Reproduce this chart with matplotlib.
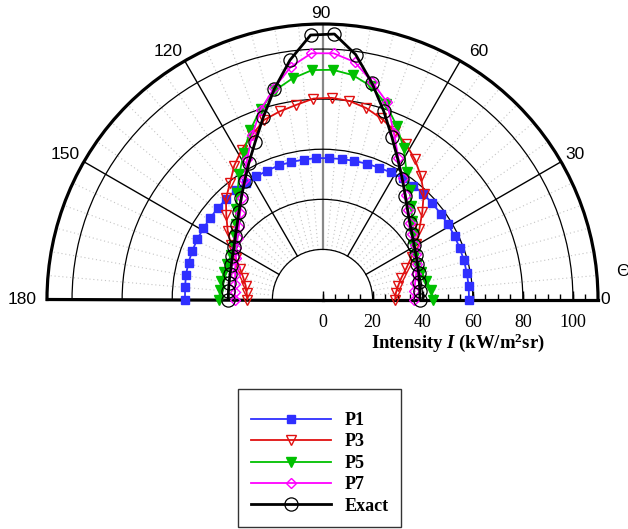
import numpy as np
import matplotlib
matplotlib.use('Agg')
import matplotlib.pyplot as plt
from matplotlib.font_manager import FontProperties

plt.rcParams['mathtext.fontset'] = 'custom'
plt.rcParams['mathtext.rm'] = 'Liberation Serif:bold'
plt.rcParams['mathtext.it'] = 'Liberation Serif:bold:italic'
plt.rcParams['mathtext.bf'] = 'Liberation Serif:bold'

# angular sampling (degrees)
theta_deg = np.linspace(0, 180, 36)

# intensities (kW/m^2 sr)
p1 = [58.5, 58.6, 58.6, 58.6, 58.5, 58.5, 58.4, 58.3, 58.3, 58.3, 58.2, 58.0, 57.6, 57.3, 57.0, 56.8, 56.6, 56.5,
      56.5, 56.4, 56.3, 56.3, 56.0, 55.8, 55.8, 55.7, 55.6, 55.5, 55.4, 55.4, 55.5, 55.5, 55.5, 55.4, 55.1, 54.9]
p3 = [29.0, 29.4, 30.7, 32.7, 35.8, 39.5, 43.5, 47.8, 52.9, 58.5, 63.0, 67.0, 70.4, 73.3, 76.0, 78.4, 80.0, 80.6,
      80.3, 78.4, 77.0, 75.4, 71.5, 68.0, 64.0, 59.3, 55.8, 51.0, 46.8, 42.5, 38.5, 35.2, 32.8, 31.2, 30.4, 30.0]
p5 = [44.2, 43.5, 42.2, 41.0, 40.3, 40.8, 42.3, 44.6, 47.5, 51.4, 55.8, 60.9, 68.5, 75.4, 82.0, 87.3, 90.4, 91.8,
      91.7, 89.1, 85.6, 80.0, 73.5, 66.4, 60.2, 54.5, 50.0, 46.0, 43.0, 41.3, 40.6, 40.6, 40.8, 41.0, 41.1, 41.2]
p7 = [36.5, 36.8, 37.6, 38.8, 40.2, 41.5, 42.8, 44.3, 46.5, 49.5, 53.3, 58.0, 64.0, 72.5, 83.0, 89.1, 95.7, 98.4,
      98.4, 93.8, 86.7, 79.7, 71.5, 63.5, 57.0, 51.8, 47.6, 44.3, 41.9, 40.0, 38.4, 37.2, 36.2, 35.5, 35.1, 35.0]
exact = [38.9, 39.0, 39.3, 39.8, 40.5, 41.4, 42.6, 44.2, 46.3, 49.2, 53.0, 57.8, 63.5, 70.5, 79.1, 88.7, 98.7, 106.1,
         105.7, 96.5, 86.3, 76.5, 68.4, 62.0, 56.5, 52.0, 48.3, 45.3, 43.0, 41.2, 39.9, 38.9, 38.3, 37.9, 37.7, 37.6]

theta_ticks = [0, 30, 60, 90, 120, 150, 180]
r_ticks = [0, 20, 40, 60, 80, 100]
r_circles = [20, 40, 60, 80, 100]
r_max = 110

W, H = 628, 529
cx, cy, R = 322.5, 299.5, 275.5  # pixel geometry of the half disc
fig = plt.figure(figsize=(W / 100, H / 100), dpi=100)
box_top = cy - R / 2 - R
ax = fig.add_axes([(cx - R) / W, 1 - (box_top + 2 * R) / H, 2 * R / W, 2 * R / H], projection='polar')
ax.set_thetamin(0)
ax.set_thetamax(180)
ax.set_rlim(0, r_max)

for s in ['polar', 'start', 'end']:
    ax.spines[s].set_linewidth(2.3)
ax.spines['inner'].set_visible(False)

ax.set_xticks(np.radians(theta_ticks))
ax.set_xticklabels([])
ax.set_xticks(np.radians(np.arange(0, 181, 5)), minor=True)
ax.tick_params(axis='x', which='major', direction='in', length=8, width=1.5)
ax.tick_params(axis='x', which='minor', direction='in', length=5, width=1)
ax.xaxis.grid(False)

# angle labels just outside the rim (offsets in pixels)
label_offsets = {0: (7, 0), 30: (14, 7), 60: (18, 9), 90: (-1.5, 11), 120: (-17, 9), 150: (-19, 7), 180: (-25, 0)}
for t in theta_ticks:
    dx, dy = label_offsets[t]
    ax.annotate(str(t), xy=(np.radians(t), r_max), xytext=(dx * 0.72, dy * 0.72), textcoords='offset points',
                ha='center', va='center', fontfamily='Liberation Sans', fontsize=12.5, annotation_clip=False)

ax.set_yticks(r_circles)
ax.set_yticklabels([])
ax.tick_params(axis='y', length=0)
ax.yaxis.grid(True, color='k', lw=0.9, ls='-')

# spokes
for t in range(5, 180, 5):
    if t % 30 == 0:
        continue
    ax.plot(np.radians([t, t]), [20, r_max], color='#c4c4c4', lw=0.8, ls=(0, (1, 2.5)), zorder=1)
for t in [30, 60, 120, 150]:
    ax.plot(np.radians([t, t]), [20, r_max], color='k', lw=1.0, zorder=1.5)
ax.plot(np.radians([90, 90]), [20, r_max], color='#888888', lw=1.6, zorder=1.5)

# radial ticks along baseline
r_minor = np.arange(0, 110, 5)
ax.plot(np.zeros(len(r_minor)), r_minor, ls='none', marker=2, ms=4.5, mew=1, color='k', clip_on=False, zorder=3)
ax.plot(np.zeros(len(r_ticks)), r_ticks, ls='none', marker=2, ms=6.5, mew=1, color='k', clip_on=False, zorder=3)
for r in r_ticks:
    ax.annotate(str(r), xy=(0, r), xytext=(0, -10.5), textcoords='offset points', ha='center', va='top',
                fontfamily='Liberation Serif', fontsize=13, annotation_clip=False)

th = np.radians(theta_deg)
ax.plot(th, p1, color='#2f2fff', lw=1.3, marker='s', ms=5.5, label='P1', clip_on=False, zorder=4)
ax.plot(th, p3, color='#e01010', lw=1.3, marker='v', ms=7, mfc='none', mew=1, label='P3', clip_on=False, zorder=4)
ax.plot(th, p5, color='#00c000', lw=1.3, marker='v', ms=6.5, label='P5', clip_on=False, zorder=4)
ax.plot(th, p7, color='#ff00ff', lw=1.3, marker='D', ms=5.5, mfc='none', mew=1, label='P7', clip_on=False, zorder=4)
ax.plot(th, exact, color='k', lw=2, marker='o', ms=9.5, mfc='none', mew=0.9, label='Exact', clip_on=False, zorder=5)

fig.text(458 / W, 1 - 343 / H, r'Intensity $I$ (kW/m$^2$sr)', ha='center', va='center',
         fontfamily='Liberation Serif', fontweight='bold', fontsize=13.5)
fig.text(616 / W, 1 - 272 / H, 'Θ', fontfamily='Liberation Sans', fontsize=12.5, ha='left', va='center')

handles, labels = ax.get_legend_handles_labels()
leg = fig.legend(handles, labels, loc='upper left', bbox_to_anchor=(238 / W, 1 - 389 / H),
                 frameon=True, fancybox=False, edgecolor='k',
                 prop=FontProperties(family='Liberation Serif', weight='bold', size=13),
                 handlelength=4.45, handletextpad=0.75, labelspacing=0.245, borderpad=0.7,
                 borderaxespad=0, title=' ', title_fontsize=5)
leg.get_frame().set_linewidth(1.0)

fig.savefig('out.png', dpi=100)
